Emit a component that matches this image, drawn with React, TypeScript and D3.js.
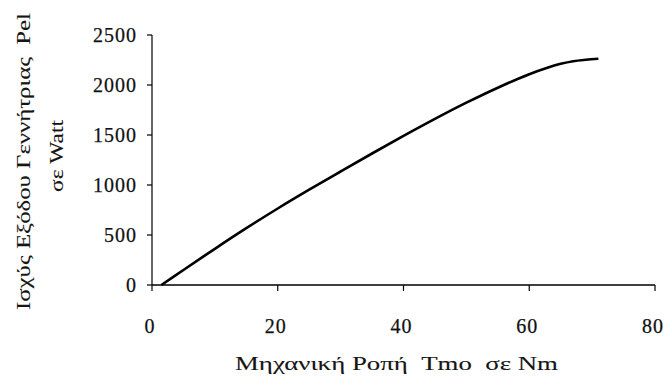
import React from "react";
import * as d3 from "d3";

// Mechanical torque (Nm) vs generator output power (W)
const torque = [1.5, 5, 10, 15, 20, 25, 30, 35, 40, 45, 50, 55, 60, 63, 65, 67, 69, 71];
const power = [0, 150, 362, 568, 765, 953, 1135, 1315, 1491, 1661, 1823, 1973, 2108, 2175, 2212, 2238, 2252, 2262];
const xTicks = [0, 20, 40, 60, 80];
const yTicks = [0, 500, 1000, 1500, 2000, 2500];

const W = 670;
const H = 378;
const font = "'Liberation Serif', 'DejaVu Serif', 'Times New Roman', serif";

export default function App() {
  const x = d3.scaleLinear().domain([0, 80]).range([152, 655]);
  const y = d3.scaleLinear().domain([0, 2500]).range([285, 35]);
  const pts: [number, number][] = torque.map((t, i) => [t, power[i]]);
  const line = d3
    .line<[number, number]>()
    .x((d) => x(d[0]))
    .y((d) => y(d[1]))
    .curve(d3.curveCatmullRom.alpha(0.5));

  const tickStyle = { fill: "#111", stroke: "#111", strokeWidth: 0.25 };
  const titleStyle = { fill: "#151515", stroke: "#151515", strokeWidth: 0.1 };

  return (
    <svg
      width={W}
      height={H}
      style={{ position: "absolute", left: 0, top: 0, background: "#fff" }}
      fontFamily={font}
    >
      <rect width={W} height={H} fill="#fff" />
      {/* axes */}
      <line x1={x(0)} x2={x(0)} y1={y(0)} y2={y(2500)} stroke="#000" strokeWidth={1.2} />
      <line x1={x(0)} x2={x(80)} y1={y(0)} y2={y(0)} stroke="#000" strokeWidth={1.5} />
      {yTicks.map((t) => (
        <g key={"y" + t}>
          <line x1={x(0) - 5} x2={x(0)} y1={y(t)} y2={y(t)} stroke="#000" strokeWidth={1.2} />
          <text
            x={137}
            y={y(t)}
            textAnchor="end"
            dominantBaseline="central"
            fontSize={20}
            letterSpacing={1}
            {...tickStyle}
          >
            {t}
          </text>
        </g>
      ))}
      {xTicks.map((t) => (
        <g key={"x" + t}>
          <line x1={x(t)} x2={x(t)} y1={y(0)} y2={y(0) + 6} stroke="#000" strokeWidth={1.2} />
          <text
            x={x(t) - 2}
            y={333}
            textAnchor="middle"
            fontSize={20}
            letterSpacing={1}
            {...tickStyle}
          >
            {t}
          </text>
        </g>
      ))}
      {/* data curve */}
      <path d={line(pts) ?? ""} fill="none" stroke="#000" strokeWidth={2.6} strokeLinejoin="round" />
      {/* axis titles */}
      <text
        x={235}
        y={370}
        fontSize={19}
        xmlSpace="preserve"
        textLength={323}
        lengthAdjust="spacingAndGlyphs"
        {...titleStyle}
      >
        Μηχανική Ροπή  Tmo  σε Nm
      </text>
      <text
        transform="translate(30,310) rotate(-90)"
        fontSize={19}
        xmlSpace="preserve"
        textLength={297}
        lengthAdjust="spacingAndGlyphs"
        {...titleStyle}
      >
        Ισχύς Εξόδου Γεννήτριας  Pel
      </text>
      <text
        transform="translate(63,192) rotate(-90)"
        fontSize={19}
        textLength={72}
        lengthAdjust="spacingAndGlyphs"
        {...titleStyle}
      >
        σε Watt
      </text>
    </svg>
  );
}
